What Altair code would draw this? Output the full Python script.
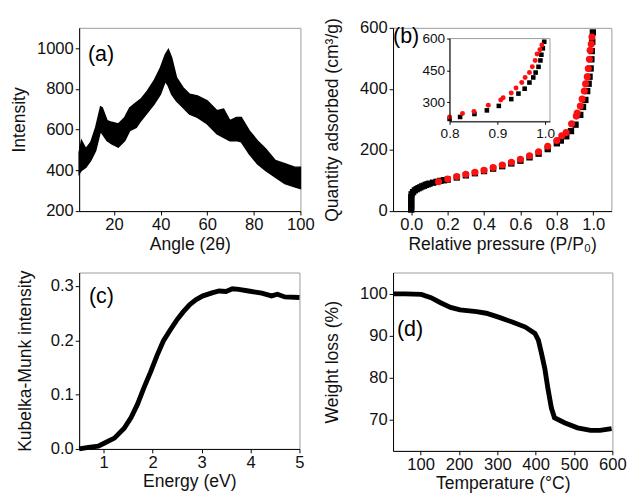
import altair as alt
import pandas as pd

FONT = "Liberation Sans"

# ---------------- (a) XRD: envelope of the noisy trace ----------------
xrd_angle = [5, 6, 7.9, 10, 12.1, 14.2, 14.9, 17, 19, 21.8, 24.6, 26.7, 29.5, 31.5, 34.3,
             37.1, 39.9, 42, 43.3, 44.7, 46.8, 49.6, 52.4, 55.8, 60, 64.2, 67, 69.7, 72.5,
             74.6, 78, 81.5, 85, 89.2, 93.3, 97.5, 100]
xrd_upper = [489, 546, 506, 538, 611, 712, 708, 644, 636, 628, 660, 706, 733, 750, 790,
             839, 904, 969, 993, 953, 855, 806, 774, 766, 741, 693, 701, 644, 660,
             660, 595, 546, 506, 449, 433, 416, 416]
xrd_lower = [384, 400, 416, 449, 498, 595, 580, 546, 530, 514, 546, 595, 611, 644, 684,
             725, 774, 839, 815, 774, 741, 709, 676, 660, 628, 579, 562, 546, 546,
             540, 481, 433, 400, 367, 335, 319, 311]

# ---------------- (b) N2 isotherm ----------------
ads_p = [0.0, 0.0, 0.0, 0.0, 0.0, 0.002, 0.01, 0.02, 0.03, 0.04, 0.05, 0.06, 0.07, 0.08,
         0.09, 0.10, 0.12, 0.14, 0.16, 0.18, 0.20, 0.25, 0.30, 0.35, 0.40, 0.45, 0.50,
         0.55, 0.60, 0.65, 0.70, 0.75, 0.80, 0.822, 0.852, 0.878, 0.903, 0.929, 0.944,
         0.957, 0.967, 0.975, 0.980, 0.986, 0.990, 0.992, 0.995, 0.998]
ads_q = [5, 15, 25, 35, 45, 55, 62, 68, 72, 75, 78, 81, 83, 86, 88, 90, 93, 96, 99, 101,
         103, 110, 117, 124, 131, 139, 147, 156, 165, 176, 188, 203, 222, 231, 245, 262,
         283, 315, 341, 364, 393, 417, 440, 467, 497, 524, 554, 585]
des_p = [0.15, 0.20, 0.25, 0.30, 0.35, 0.40, 0.45, 0.50, 0.55, 0.60, 0.65, 0.70, 0.75,
         0.80, 0.827, 0.851, 0.881, 0.907, 0.912, 0.929, 0.939, 0.951, 0.958, 0.967,
         0.973, 0.979, 0.983, 0.989, 0.993]
des_q = [96, 105, 113, 121, 127, 134, 143, 151, 160, 170, 181, 194, 212, 231, 247, 257,
         286, 311, 321, 344, 367, 393, 417, 440, 467, 497, 527, 547, 570]
inset_x_domain = [0.8, 1.01]
inset_y_domain = [210, 600]

# ---------------- (c) Kubelka-Munk ----------------
km_e = [0.5, 0.69, 0.89, 1.02, 1.22, 1.42, 1.56, 1.69, 1.82, 1.96, 2.09, 2.22, 2.36, 2.49,
        2.62, 2.76, 2.89, 3.03, 3.23, 3.36, 3.5, 3.63, 3.76, 3.96, 4.1, 4.23, 4.43, 4.55,
        4.7, 5.0]
km_k = [0.0, 0.003, 0.005, 0.011, 0.020, 0.038, 0.058, 0.082, 0.112, 0.142, 0.172, 0.199,
        0.219, 0.237, 0.252, 0.266, 0.275, 0.282, 0.288, 0.291, 0.290, 0.295, 0.294,
        0.291, 0.289, 0.287, 0.282, 0.285, 0.280, 0.279]

# ---------------- (d) TGA ----------------
tga_t = [28, 60, 101.7, 127, 152, 178, 203, 246, 271, 305, 339, 373, 398, 407, 415, 424,
         432, 441, 449, 475, 509, 543, 568, 598]
tga_w = [99.9, 99.9, 99.8, 99.0, 97.8, 96.7, 96.1, 95.7, 95.3, 94.3, 93.2, 92.0, 90.5,
         88.9, 85.8, 82.0, 77.3, 72.7, 70.4, 69.2, 68.0, 67.4, 67.4, 67.8]

df_a = pd.DataFrame({"angle": xrd_angle, "lo": xrd_lower, "hi": xrd_upper})
df_ads = pd.DataFrame({"p": ads_p, "q": ads_q})
df_des = pd.DataFrame({"p": des_p, "q": des_q})
df_c = pd.DataFrame({"e": km_e, "k": km_k})
df_d = pd.DataFrame({"t": tga_t, "w": tga_w})
df_frame = pd.DataFrame({"x": [inset_x_domain[0]], "x2": [inset_x_domain[1]],
                         "y": [inset_y_domain[0]], "y2": [inset_y_domain[1]]})

LAB = 17
TIT = 18


def label(txt, x, y):
    return alt.Chart(pd.DataFrame({"t": [txt]})).mark_text(
        align="left", baseline="alphabetic", font=FONT, fontSize=22, color="black"
    ).encode(text="t:N", x=alt.value(x), y=alt.value(y))


def xaxis(values, title, fmt=None):
    kw = dict(values=values, title=title, titlePadding=3, orient="bottom")
    if fmt:
        kw["format"] = fmt
    return alt.Axis(**kw)


def yaxis(values, title, tpad, fmt=None):
    kw = dict(values=values, title=title, titlePadding=tpad, orient="left")
    if fmt:
        kw["format"] = fmt
    return alt.Axis(**kw)


# (a)
WA, HA = 227, 188
area_a = alt.Chart(df_a).mark_area(color="black", stroke="black", strokeWidth=1.5).encode(
    x=alt.X("angle:Q", scale=alt.Scale(domain=[5, 100], nice=False),
            axis=xaxis([20, 40, 60, 80, 100], "Angle (2θ)")),
    y=alt.Y("lo:Q", scale=alt.Scale(domain=[200, 1100], nice=False),
            axis=yaxis([200, 400, 600, 800, 1000], "Intensity", 8, "d")),
    y2="hi:Q",
)
chart_a = alt.layer(area_a, label("(a)", 9, 34)).properties(width=WA, height=HA)

# (b)
WB, HB = 224, 188
bx = alt.Scale(domain=[-0.1, 1.1], nice=False)
by = alt.Scale(domain=[0, 600], nice=False)
ads_main = alt.Chart(df_ads).mark_square(color="black", size=42, opacity=1).encode(
    x=alt.X("p:Q", scale=bx,
            axis=xaxis([0.0, 0.2, 0.4, 0.6, 0.8, 1.0], "Relative pressure (P/P₀)", ".1f")),
    y=alt.Y("q:Q", scale=by,
            axis=yaxis([0, 100, 200, 300, 400, 500, 600], "Quantity adsorbed (cm³/g)", 19, "d")))
des_main = alt.Chart(df_des).mark_circle(color="#ff1010", size=52, opacity=1).encode(
    x=alt.X("p:Q", scale=bx), y=alt.Y("q:Q", scale=by))
main_b = alt.layer(ads_main, des_main)

ix = alt.Scale(domain=inset_x_domain, range=[58, 161], nice=False)
iy = alt.Scale(domain=inset_y_domain, range=[96, 11], nice=False)
ix_axis = alt.Axis(values=[0.8, 0.9, 1.0], format=".1f", title=None, orient="bottom",
                   offset=-(HB - 96), labelFontSize=14, tickSize=3, zindex=2)
iy_axis = alt.Axis(values=[300, 450, 600], format="d", title=None, orient="left", offset=-58,
                   labelFontSize=14, tickSize=3, zindex=2)
frame = alt.Chart(df_frame).mark_rect(fill="white", stroke="#9a9a9a", strokeWidth=1).encode(
    x=alt.X("x:Q", scale=ix, axis=ix_axis), x2="x2:Q",
    y=alt.Y("y:Q", scale=iy, axis=iy_axis), y2="y2:Q")
ads_in = alt.Chart(df_ads).transform_filter("datum.p >= 0.795").mark_square(
    color="black", size=22, opacity=1).encode(
    x=alt.X("p:Q", scale=ix), y=alt.Y("q:Q", scale=iy))
des_in = alt.Chart(df_des).transform_filter("datum.p >= 0.795").mark_circle(
    color="#ff1010", size=26, opacity=1).encode(
    x=alt.X("p:Q", scale=ix), y=alt.Y("q:Q", scale=iy))
inset = alt.layer(frame, ads_in, des_in)

chart_b = alt.layer(main_b, inset, label("(b)", 0, 16)).resolve_scale(
    x="independent", y="independent").resolve_axis(x="independent", y="independent"
).properties(width=WB, height=HB)

# (c)
WC, HC = 226, 181
line_c = alt.Chart(df_c).mark_line(color="black", strokeWidth=5).encode(
    x=alt.X("e:Q", scale=alt.Scale(domain=[0.5, 5], nice=False),
            axis=xaxis([1, 2, 3, 4, 5], "Energy (eV)")),
    y=alt.Y("k:Q", scale=alt.Scale(domain=[0, 0.325], nice=False),
            axis=yaxis([0, 0.1, 0.2, 0.3], "Kubelka-Munk intensity", 16, ".1f")),
)
chart_c = alt.layer(line_c, label("(c)", 10, 31)).properties(width=WC, height=HC)

# (d)
WD, HD = 225, 183
line_d = alt.Chart(df_d).mark_line(color="black", strokeWidth=5).encode(
    x=alt.X("t:Q", scale=alt.Scale(domain=[28, 600], nice=False),
            axis=xaxis([100, 200, 300, 400, 500, 600], "Temperature (°C)")),
    y=alt.Y("w:Q", scale=alt.Scale(domain=[62.5, 105], nice=False),
            axis=yaxis([70, 80, 90, 100], "Weight loss (%)", 19)),
)
chart_d = alt.layer(line_d, label("(d)", 4, 65)).properties(width=WD, height=HD)

chart = alt.concat(chart_a, chart_b, chart_c, chart_d, columns=2,
                   spacing={"row": 15, "column": 8}).properties(
    background="white", padding={"left": 2, "top": 2, "right": 0, "bottom": 0}
).configure_axis(
    labelFont=FONT, titleFont=FONT, labelFontSize=LAB, titleFontSize=TIT,
    titleFontWeight="normal", labelColor="#111", titleColor="#111",
    domainColor="black", tickColor="black", grid=False, tickSize=4,
    labelPadding=2, labelOverlap=False, labelFlush=False,
).configure_view(stroke="#9a9a9a", strokeWidth=1)

chart.save("out.html", embed_options={"renderer": "svg", "actions": False})
